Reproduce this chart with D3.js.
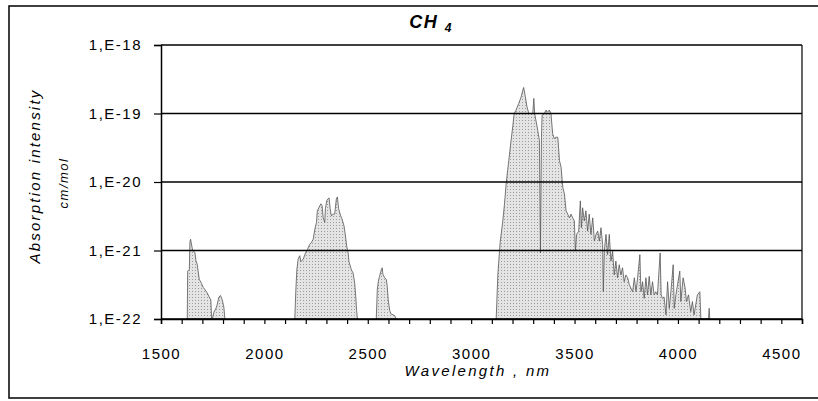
<!DOCTYPE html>
<html>
<head>
<meta charset="utf-8">
<script src="https://cdn.jsdelivr.net/npm/d3@7"></script>
<style>
  body { margin: 0; background: #fff; }
  svg { display: block; font-family: Arial, "Liberation Sans", sans-serif; }
</style>
</head>
<body>
<svg id="chart" width="818" height="401"></svg>
<script>
// bands of the CH4 spectrum: [wavelength nm, intensity cm/mol]
const band1 = [[1627,1e-22],[1629,5.0e-22],[1637,5.3e-22],[1640,1.33e-21],[1643,1.46e-21],[1653,1.0e-21],
  [1664,9.4e-22],[1669,7.1e-22],[1675,6.3e-22],[1685,3.8e-22],[1696,3.3e-22],[1704,2.9e-22],[1720,2.5e-22],
  [1733,2.1e-22],[1741,1.9e-22],[1745,1e-22],[1748,1e-22],[1756,1.26e-22],[1769,1.5e-22],[1780,2.1e-22],
  [1788,2.2e-22],[1796,1.9e-22],[1804,1.5e-22],[1809,1e-22]];

const band2 = [[2147,1e-22],[2152,2.6e-22],[2157,5.2e-22],[2163,7.4e-22],[2171,8.4e-22],[2176,6.9e-22],
  [2187,7.4e-22],[2199,9.2e-22],[2208,1.03e-21],[2219,1.23e-21],[2227,1.3e-21],[2236,1.46e-21],[2244,2.05e-21],
  [2252,2.57e-21],[2256,3.8e-21],[2265,4.3e-21],[2273,4.8e-21],[2279,4.55e-21],[2284,3.05e-21],[2292,2.57e-21],
  [2295,4.07e-21],[2302,5.4e-21],[2308,5.7e-21],[2313,5.85e-21],[2318,4.07e-21],[2324,3.2e-21],[2332,3.4e-21],
  [2340,3.4e-21],[2348,5.7e-21],[2353,6.05e-21],[2359,4.07e-21],[2369,3.2e-21],[2375,2.9e-21],[2385,2.3e-21],
  [2392,1.63e-21],[2398,1.16e-21],[2405,9.2e-22],[2409,6.9e-22],[2421,5.2e-22],[2429,4.7e-22],[2437,3.3e-22],
  [2442,2.1e-22],[2446,1.33e-22],[2450,1e-22]];

const band2b = [[2541,1e-22],[2546,2.66e-22],[2551,3.55e-22],[2557,4.2e-22],[2566,5.3e-22],[2570,5.6e-22],
  [2573,4.5e-22],[2582,4.0e-22],[2590,3.76e-22],[2594,3.0e-22],[2599,1.9e-22],[2606,1.33e-22],[2612,1.19e-22],
  [2630,1.12e-22],[2638,1e-22]];

const band3 = [[3121,1e-22],[3129,4.4e-22],[3140,1.3e-21],[3153,2.7e-21],[3161,4.7e-21],[3169,9.3e-21],
  [3182,2.06e-20],[3193,4.06e-20],[3201,6.4e-20],[3208,1e-19],[3217,1.12e-19],[3230,1.4e-19],[3242,1.76e-19],
  [3250,2.2e-19],[3254,2.4e-19],[3262,1.76e-19],[3270,1.25e-19],[3279,1e-19],[3290,1e-19],[3298,1e-19],
  [3303,1.66e-19],[3307,1e-19],[3322,5.7e-20],[3330,4.06e-20],[3335,9.2e-22],[3340,4.5e-20],[3343,9.4e-20],
  [3354,1e-19],[3362,1.12e-19],[3370,1.06e-19],[3378,1.12e-19],[3386,1e-19],[3394,5.1e-20],[3402,4.3e-20],
  [3410,4.5e-20],[3419,4.5e-20],[3427,2.06e-20],[3435,1.64e-20],[3443,8.4e-21],[3451,6.7e-21],[3459,3.8e-21],
  [3467,3.4e-21],[3475,3.0e-21],[3483,3.4e-21],[3491,3.0e-21],[3499,2.7e-21],[3504,9.8e-22],[3510,1.72e-21],
  [3520,1.92e-21],[3528,5.3e-21],[3533,2.15e-21],[3539,4.2e-21],[3547,2.7e-21],[3555,3.8e-21],[3563,1.92e-21],
  [3571,3.4e-21],[3579,1.72e-21],[3588,3.0e-21],[3596,1.37e-21],[3604,1.72e-21],[3612,1.92e-21],[3620,1.37e-21],
  [3628,2.15e-21],[3636,1.22e-21],[3639,2.5e-22],[3644,9.8e-22],[3652,1.72e-21],[3660,8.7e-22],[3668,1.72e-21],
  [3676,7.0e-22],[3684,9.8e-22],[3692,4.4e-22],[3700,7.0e-22],[3708,4.0e-22],[3716,6.2e-22],[3724,4.4e-22],
  [3732,5.6e-22],[3740,3.5e-22],[3748,4.4e-22],[3757,4.0e-22],[3765,3.16e-22],[3773,2.8e-22],[3781,2.5e-22],
  [3789,4.0e-22],[3797,2.5e-22],[3805,4.0e-22],[3816,8.7e-22],[3821,2.5e-22],[3829,3.5e-22],[3837,2.0e-22],
  [3845,4.0e-22],[3853,2.25e-22],[3861,4.2e-22],[3869,2.25e-22],[3877,3.5e-22],[3885,2.25e-22],[3893,2.5e-22],
  [3901,2.25e-22],[3914,9.2e-22],[3919,2.25e-22],[3925,2.0e-22],[3933,2.1e-22],[3942,1.15e-22],[3950,3.5e-22],
  [3958,1.43e-22],[3966,2.5e-22],[3977,6.2e-22],[3982,1.43e-22],[3990,2.25e-22],[4009,5.0e-22],[4014,1.8e-22],
  [4025,4.0e-22],[4035,2.8e-22],[4041,1.8e-22],[4051,2.25e-22],[4062,1.28e-22],[4070,1.8e-22],[4078,1.15e-22],
  [4094,2.25e-22],[4106,2.5e-22],[4111,1e-22],[4148,1e-22],[4151,1.43e-22],[4154,1e-22]];

const bands = [band1, band2, band2b, band3];
const yTicks = [1e-18, 1e-19, 1e-20, 1e-21, 1e-22];
const xTicks = d3.range(1500, 4601, 100);

const svg = d3.select('#chart');
const plotLeft = 161, plotRight = 802, plotTop = 45, plotBottom = 319;

const x = d3.scaleLinear().domain([1500, 4600]).range([plotLeft, plotRight]);
const y = d3.scaleLog().domain([1e-22, 1e-18]).range([plotBottom, plotTop]).clamp(true);

// stipple fill like the scanned print
const pat = svg.append('defs').append('pattern')
  .attr('id', 'stip').attr('width', 3).attr('height', 3)
  .attr('patternUnits', 'userSpaceOnUse');
pat.append('rect').attr('width', 3).attr('height', 3).attr('fill', '#e4e4e4');
pat.append('rect').attr('width', 1).attr('height', 1).attr('fill', '#9c9c9c');

// outer frame
svg.append('rect')
  .attr('x', 9).attr('y', 6).attr('width', 830).attr('height', 392)
  .attr('fill', 'none').attr('stroke', '#000').attr('stroke-width', 1.5);

const area = d3.area()
  .x(d => x(d[0]))
  .y0(plotBottom)
  .y1(d => y(d[1]));

svg.selectAll('path.band')
  .data(bands)
  .enter().append('path')
    .attr('class', 'band')
    .attr('d', area)
    .attr('fill', 'url(#stip)')
    .attr('stroke', '#555')
    .attr('stroke-width', 0.8);

// horizontal grid
svg.selectAll('line.grid')
  .data(yTicks)
  .enter().append('line')
    .attr('class', 'grid')
    .attr('x1', plotLeft).attr('x2', plotRight)
    .attr('y1', d => y(d)).attr('y2', d => y(d))
    .attr('stroke', '#000').attr('stroke-width', 1.5);

// right border of plot area
svg.append('line')
  .attr('x1', plotRight).attr('x2', plotRight).attr('y1', plotTop).attr('y2', plotBottom)
  .attr('stroke', '#000').attr('stroke-width', 1.2);

const xAxis = svg.append('g')
  .attr('transform', `translate(0,${plotBottom})`)
  .call(d3.axisBottom(x).tickValues(xTicks).tickSize(5).tickPadding(24)
    .tickFormat(d => d % 500 === 0 ? d : ''));

const yAxis = svg.append('g')
  .attr('transform', `translate(${plotLeft},0)`)
  .call(d3.axisLeft(y).tickValues(yTicks).tickSize(7).tickPadding(12)
    .tickFormat(d => '1,E' + Math.round(Math.log10(d))));

[xAxis, yAxis].forEach(g => {
  g.select('.domain').attr('stroke', '#000').attr('stroke-width', 1.5);
  g.selectAll('.tick line').attr('stroke', '#000').attr('stroke-width', 1.2);
  g.selectAll('.tick text')
    .attr('fill', '#000')
    .style('font-size', '15px')
    .style('letter-spacing', '1.5px')
    .style('font-family', 'Arial, "Liberation Sans", sans-serif');
});

// title
const title = svg.append('text')
  .attr('x', 431).attr('y', 28)
  .attr('text-anchor', 'middle')
  .style('font-size', '18px').style('font-weight', 'bold').style('font-style', 'italic')
  .style('letter-spacing', '1.5px');
title.append('tspan').text('CH ');
title.append('tspan').attr('dy', 4).style('font-size', '12px').text('4');

// axis titles
svg.append('text')
  .attr('transform', 'translate(40,176) rotate(-90)')
  .attr('text-anchor', 'middle')
  .style('font-size', '15px').style('font-style', 'italic').style('letter-spacing', '2.2px')
  .text('Absorption intensity');

svg.append('text')
  .attr('transform', 'translate(68,183) rotate(-90)')
  .attr('text-anchor', 'middle')
  .style('font-size', '13px').style('font-style', 'italic').style('letter-spacing', '1.5px')
  .text('cm/mol');

svg.append('text')
  .attr('x', 478).attr('y', 376)
  .attr('text-anchor', 'middle')
  .style('font-size', '15px').style('font-style', 'italic').style('letter-spacing', '2.3px')
  .text('Wavelength , nm');
</script>
</body>
</html>
